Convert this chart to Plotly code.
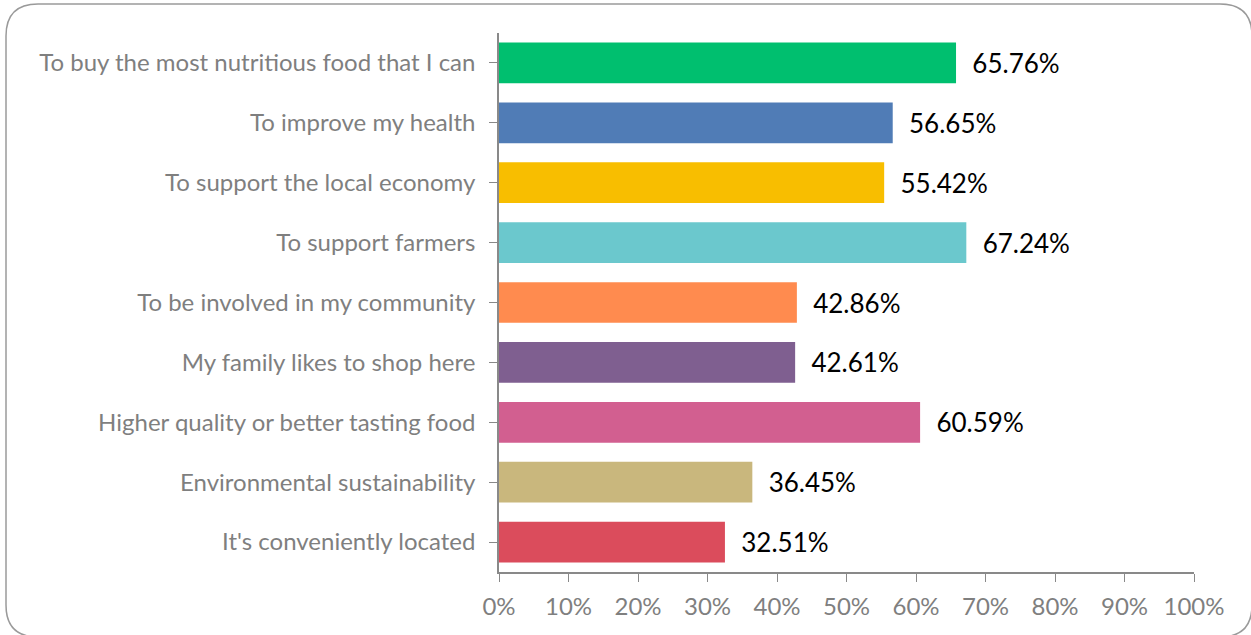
import plotly.graph_objects as go

categories = [
    "To buy the most nutritious food that I can",
    "To improve my health",
    "To support the local economy",
    "To support farmers",
    "To be involved in my community",
    "My family likes to shop here",
    "Higher quality or better tasting food",
    "Environmental sustainability",
    "It's conveniently located",
]
values = [65.76, 56.65, 55.42, 67.24, 42.86, 42.61, 60.59, 36.45, 32.51]
colors = ["#00BF6F", "#507CB6", "#F8BE00", "#6BC8CD", "#FF8B4F",
          "#7F5F90", "#D25F90", "#C9B77D", "#DB4C5C"]
tick_vals = [0, 10, 20, 30, 40, 50, 60, 70, 80, 90, 100]
tick_text = [f"{v}%" for v in tick_vals]

W, H = 1251, 635
L, R, T, B = 499, 1194, 33, 572

fig = go.Figure(go.Bar(
    x=values, y=categories, orientation="h",
    marker=dict(color=colors, line=dict(width=0)),
    text=[f"\u00a0\u00a0{v:.2f}%" for v in values], textposition="outside",
    textfont=dict(family="Lato, sans-serif", size=26, color="#000000"),
    cliponaxis=False, width=0.68, hoverinfo="x+y",
))

def px(x):
    return (x - L) / (R - L)

def py(y):
    return (B - y) / (B - T)

x0, x1, y0, y1, r = 6, 1252, 4, 637, 32
path = (f"M {px(x0+r)},{py(y0)} L {px(x1-r)},{py(y0)} "
        f"Q {px(x1)},{py(y0)} {px(x1)},{py(y0+r)} "
        f"L {px(x1)},{py(y1-r)} Q {px(x1)},{py(y1)} {px(x1-r)},{py(y1)} "
        f"L {px(x0+r)},{py(y1)} Q {px(x0)},{py(y1)} {px(x0)},{py(y1-r)} "
        f"L {px(x0)},{py(y0+r)} Q {px(x0)},{py(y0)} {px(x0+r)},{py(y0)} Z")

fig.update_layout(
    width=W, height=H,
    margin=dict(l=L, r=W - R, t=T, b=H - B),
    plot_bgcolor="white", paper_bgcolor="white",
    showlegend=False,
    shapes=[dict(type="path", xref="paper", yref="paper", path=path,
                 line=dict(color="#9a9a9a", width=1.5), fillcolor="rgba(0,0,0,0)",
                 layer="below")],
    xaxis=dict(range=[0, 100], tickvals=tick_vals, ticktext=tick_text,
               showgrid=False, zeroline=False, showline=True, linecolor="#898989",
               linewidth=1.5, ticks="outside", ticklen=8, tickcolor="#898989",
               ticklabelstandoff=4,
               tickfont=dict(family="Lato, sans-serif", size=24, color="#7f7f7f")),
    yaxis=dict(autorange="reversed", showgrid=False, zeroline=False,
               showline=True, linecolor="#898989", linewidth=1.5,
               ticks="outside", ticklen=8, tickcolor="#898989",
               tickmode="array", tickvals=categories, ticklabelstandoff=9,
               tickfont=dict(family="Lato, sans-serif", size=24, color="#7f7f7f")),
)

fig.write_html("out.html", config={"displayModeBar": False},
               post_script="document.body.style.margin='0';")
